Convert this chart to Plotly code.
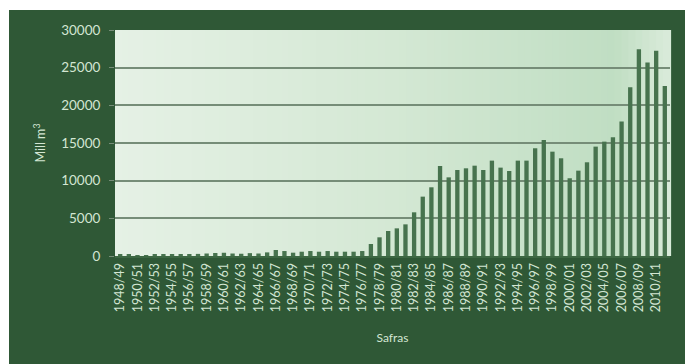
import plotly.graph_objects as go

# ---- data ----
safras = [f"{y}/{str(y + 1)[-2:]}" for y in range(1948, 2012)]
producao = [
    150, 150, 120, 130, 160, 190, 210, 200, 240, 280,      # 1948-1957
    330, 400, 430, 330, 300, 380, 330, 480, 800, 660,      # 1958-1967
    440, 570, 660, 570, 660, 570, 570, 570, 660, 1590,     # 1968-1977
    2480, 3320, 3670, 4200, 5800, 7880, 9120, 11950, 10440, 11420,  # 1978-1987
    11640, 11990, 11420, 12660, 11730, 11280, 12660, 12660, 14300, 15400,  # 1988-1997
    13850, 12970, 10320, 11330, 12440, 14520, 15180, 15760, 17840, 22400,  # 1998-2007
    27450, 25670, 27260, 22570,                              # 2008-2011
]
tick_labels = safras[::2]
y_ticks = [0, 5000, 10000, 15000, 20000, 25000, 30000]

W, H = 685, 364
L, R, T, B = 115, 15, 30, 108
pw, ph = W - L - R, H - T - B

panel = "#2f5836"
text_col = "#d3e6d3"
bar_col = "#47734e"

fig = go.Figure()
fig.add_trace(go.Bar(x=safras, y=producao, marker=dict(color=bar_col, line=dict(width=0)),
                     width=0.5))

shapes = []
# dark green panel
shapes.append(dict(type="rect", xref="paper", yref="paper",
                   x0=(9 - L) / pw, x1=(W - L + 5) / pw,
                   y0=-(B + 5) / ph, y1=1 + (T - 10) / ph,
                   fillcolor=panel, line=dict(width=0), layer="below"))

# gradient background of plotting area (decorative strips)
stops = [(0.0, (229, 241, 229)), (0.5, (212, 232, 212)), (0.9, (192, 222, 195)), (1.0, (218, 235, 218))]
def col(t):
    for (t0, c0), (t1, c1) in zip(stops[:-1], stops[1:]):
        if t0 <= t <= t1:
            f = (t - t0) / (t1 - t0)
            return "rgb(%d,%d,%d)" % tuple(round(a + (b - a) * f) for a, b in zip(c0, c1))
    return "rgb(%d,%d,%d)" % stops[-1][1]
N = 80
for i in range(N):
    shapes.append(dict(type="rect", xref="paper", yref="paper",
                       x0=i / N, x1=(i + 1) / N + 0.002, y0=0, y1=1,
                       fillcolor=col((i + 0.5) / N), line=dict(width=0), layer="below"))

fig.update_layout(
    width=W, height=H,
    margin=dict(l=L, r=R, t=T, b=B, pad=0),
    paper_bgcolor="white", plot_bgcolor="#d8ebd8",
    shapes=shapes,
    showlegend=False,
    bargap=0.5,
    font=dict(family="Lato, Open Sans, sans-serif", color=text_col, size=12),
    xaxis=dict(
        type="category", categoryorder="array", categoryarray=safras,
        tickmode="array", tickvals=tick_labels, ticktext=tick_labels,
        tickangle=-90, tickfont=dict(size=12.5, color=text_col),
        showgrid=False, showline=True, linecolor="#3d6843", linewidth=2,
        ticks="", range=[-0.6, len(safras) - 0.4],
        title=dict(text="Safras", font=dict(size=12, color=text_col), standoff=22),
    ),
    yaxis=dict(
        range=[0, 30000], tickvals=y_ticks, ticktext=[str(v) for v in y_ticks],
        tickfont=dict(size=13.5, color=text_col),
        showgrid=True, gridcolor="#768d78", gridwidth=1.5,
        ticks="outside", ticklen=5, tickcolor="#768d78", ticklabelstandoff=6,
        zeroline=False, showline=False,
        title=dict(text="Mill m<sup>3</sup>", font=dict(size=12.5, color=text_col), standoff=12),
    ),
)

fig.write_html("out.html")
